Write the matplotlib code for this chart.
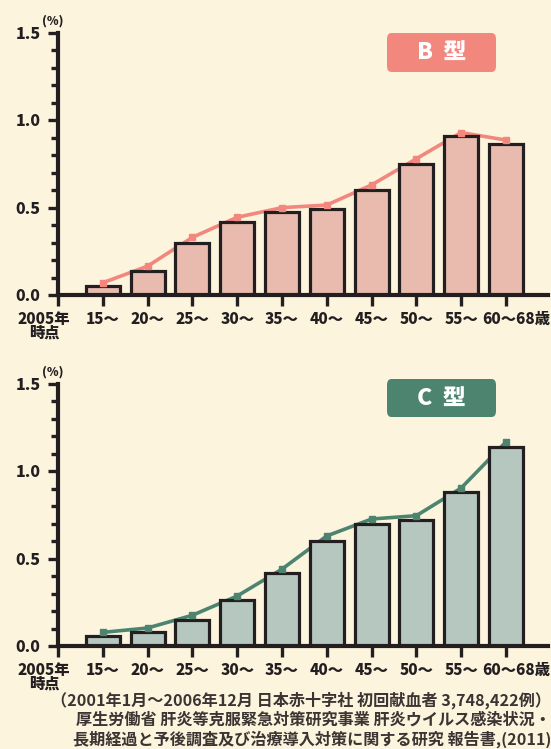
import matplotlib
matplotlib.use("Agg")
import matplotlib.pyplot as plt
import matplotlib.transforms as mtransforms
from matplotlib.patches import FancyBboxPatch

plt.rcParams['font.family'] = ['Noto Sans CJK JP', 'DejaVu Sans']

# ---------------- data ----------------
ages = ['15〜', '20〜', '25〜', '30〜', '35〜', '40〜', '45〜', '50〜', '55〜', '60〜68歳']
origin_label = '2005年\n時点'

b_bars = [0.05, 0.14, 0.30, 0.42, 0.475, 0.49, 0.60, 0.75, 0.91, 0.865]
b_line = [0.07, 0.165, 0.33, 0.445, 0.50, 0.515, 0.63, 0.78, 0.93, 0.887]

c_bars = [0.057, 0.08, 0.15, 0.265, 0.42, 0.60, 0.70, 0.72, 0.88, 1.14]
c_line = [0.078, 0.103, 0.176, 0.286, 0.44, 0.63, 0.727, 0.746, 0.904, 1.168]

footer = ['（2001年1月～2006年12月 日本赤十字社 初回献血者 3,748,422例）',
          '厚生労働省 肝炎等克服緊急対策研究事業 肝炎ウイルス感染状況・',
          '長期経過と予後調査及び治療導入対策に関する研究 報告書,(2011)']

# ---------------- colours ----------------
bg = '#fdf4de'
ink = '#231f20'
b_main, b_fill = '#f2877e', '#e8bbae'
c_main, c_fill = '#4d8470', '#b6c7bf'

W, H = 551, 749
fig = plt.figure(figsize=(W / 100, H / 100), dpi=100, facecolor=bg)


def px_axes(x0, y0_top, x1, y1_bottom):
    return [x0 / W, 1 - y1_bottom / H, (x1 - x0) / W, (y1_bottom - y0_top) / H]


def draw_panel(rect, bars, line, main, fill, title, box):
    ax = fig.add_axes(rect)
    ax.set_facecolor('none')
    pos = list(range(1, len(bars) + 1))
    ax.bar(pos, bars, width=0.76, color=fill, edgecolor=ink, linewidth=2.3, zorder=3)
    ax.plot(pos, line, color=main, lw=2.6, zorder=2, solid_capstyle='round')
    ax.plot(pos, line, ls='none', marker='s', ms=4.8, color=main, zorder=4)

    ax.set_xlim(0, 10.94)
    ax.set_ylim(0, 1.5)
    for s in ['top', 'right']:
        ax.spines[s].set_visible(False)
    for s in ['left', 'bottom']:
        ax.spines[s].set_linewidth(3)
        ax.spines[s].set_color(ink)
        ax.spines[s].set_zorder(5)

    ax.set_yticks([0, 0.5, 1.0, 1.5])
    ax.set_yticklabels(['0.0', '0.5', '1.0', '1.5'])
    ax.set_yticks([i / 10 for i in range(16)], minor=True)
    ax.tick_params(axis='y', which='major', length=7.5, width=2.4, color=ink,
                   pad=5, labelsize=11.5, labelcolor=ink)
    ax.tick_params(axis='y', which='minor', length=5, width=2.4, color=ink)
    for t in ax.get_yticklabels():
        t.set_fontweight('heavy')

    ax.set_xticks([0] + pos)
    ax.set_xticklabels([origin_label] + ages)
    ax.tick_params(axis='x', length=8, width=2.4, color=ink, pad=4,
                   labelsize=11, labelcolor=ink)
    labels = ax.get_xticklabels()
    for t in labels:
        t.set_fontweight('heavy')
        t.set_linespacing(0.95)
    labels[0].set_transform(labels[0].get_transform() +
                            mtransforms.ScaledTranslation(-0.14, 0, fig.dpi_scale_trans))
    labels[-1].set_transform(labels[-1].get_transform() +
                             mtransforms.ScaledTranslation(0.10, 0, fig.dpi_scale_trans))

    # (%) unit label
    top_px = (1 - rect[1] - rect[3]) * H
    fig.text(53 / W, 1 - (top_px - 12) / H, '(%)', ha='center', va='center',
             fontsize=8.5, fontweight='heavy', color=ink)

    # type badge
    bx0, by0, bx1, by1 = box
    patch = FancyBboxPatch((bx0 / W, 1 - by1 / H), (bx1 - bx0) / W, (by1 - by0) / H,
                           boxstyle='round,pad=0,rounding_size=0.008',
                           transform=fig.transFigure, facecolor=main,
                           edgecolor='none')
    fig.patches.append(patch)
    fig.text((bx0 + bx1) / 2 / W, 1 - (by0 + by1) / 2 / H, title, ha='center',
             va='center', fontsize=16.5, fontweight='heavy', color='white')
    return ax


draw_panel(px_axes(58, 33, 548, 295), b_bars, b_line, b_main, b_fill,
           'B  型', (387, 33, 496, 72))
draw_panel(px_axes(58, 384, 548, 646), c_bars, c_line, c_main, c_fill,
           'C  型', (387, 379, 496, 417))

for text, y in zip(footer, [700, 720, 739]):
    fig.text(551 / W, 1 - y / H, text, ha='right', va='center', fontsize=11.6,
             fontweight='bold', color='#3a3432')

fig.savefig('out.png', dpi=100, facecolor=bg)
